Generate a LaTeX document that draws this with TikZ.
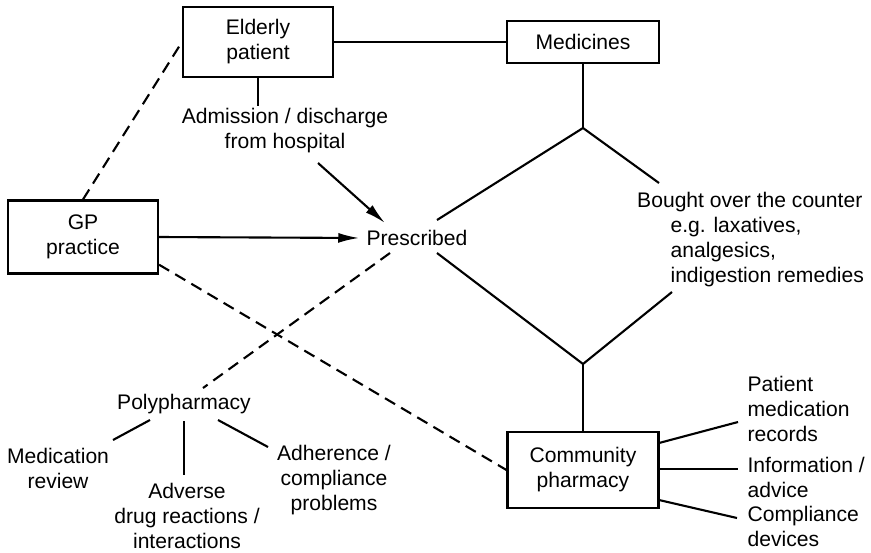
\documentclass[tikz,border=0pt]{standalone}
\usepackage{fontspec}
\setmainfont{Liberation Sans}
\usetikzlibrary{arrows.meta}
\begin{document}
\begin{tikzpicture}[x=0.03cm,y=-0.03cm,
  every node/.style={font=\fontsize{18}{21.3}\selectfont},
  box/.style={draw, line width=1.8pt, inner sep=0pt, align=center},
  lbl/.style={inner sep=2pt, align=center},
  link/.style={line width=1.8pt},
  dashlink/.style={line width=1.8pt, dash pattern=on 10pt off 6pt},
  arrowlink/.style={line width=1.8pt, -{Latex[length=18pt,width=8.5pt]}}]
\useasboundingbox (0,0) rectangle (871,552);

% boxes
\node[box, minimum width=4.5cm, minimum height=2.1cm] (elderly) at (258,42) {Elderly\\patient};
\node[box, minimum width=4.56cm, minimum height=1.26cm] (medicines) at (583,42) {Medicines};
\node[box, minimum width=4.5cm, minimum height=2.19cm] (gp) at (83,237) {GP\\practice};
\node[box, minimum width=4.53cm, minimum height=2.28cm] (community) at (583,470) {Community\\pharmacy};

% labels
\node[lbl] (admission) at (285,131) {Admission / discharge\\from hospital};
\node[lbl] (prescribed) at (417,238) {Prescribed};
\node[inner sep=0pt, align=left, anchor=north west] (otc) at (637,192)
  {Bought over the counter\\\hspace*{1cm}e.g. laxatives,\\\hspace*{1cm}analgesics,\\\hspace*{1cm}indigestion remedies};
\node[lbl] (poly) at (184,404) {Polypharmacy};
\node[lbl] (review) at (58,468) {Medication\\review};
\node[lbl] (adverse) at (187,516) {Adverse\\drug reactions /\\interactions};
\node[lbl] (adherence) at (334,480) {Adherence /\\compliance\\problems};
\node[lbl, align=left, anchor=west] (records) at (745,409) {Patient\\medication\\records};
\node[lbl, align=left, anchor=west] (advice) at (745,477) {Information /\\advice};
\node[lbl, align=left, anchor=west] (devices) at (745,526) {Compliance\\devices};

% branch points and connector ends
\coordinate (split) at (583,128);
\coordinate (join) at (583,364);
\coordinate (presUp) at (437,220);
\coordinate (presDown) at (437,253);
\coordinate (presDash) at (390,253);
\coordinate (otcUp) at (659,183);
\coordinate (otcDown) at (672,292);
\coordinate (admFrom) at (318,163);
\coordinate (admTo) at (385,223);
\coordinate (polyTop) at (203,388);
\coordinate (polyL) at (150,420);
\coordinate (polyM) at (184,421);
\coordinate (polyR) at (218,420);
\coordinate (reviewEnd) at (113,440);
\coordinate (adverseEnd) at (184,475);
\coordinate (adherenceEnd) at (268,447);
\coordinate (commA) at (659,443);
\coordinate (commB) at (659,469);
\coordinate (commC) at (659,500);
\coordinate (recordsEnd) at (738,422);
\coordinate (adviceEnd) at (738,469);
\coordinate (devicesEnd) at (737,518);

% solid links
\draw[link] (elderly.east) -- (medicines.west);
\draw[link] (elderly.south) -- (elderly.south |- admission.north);
\draw[link] (medicines.south) -- (split);
\draw[link] (presUp) -- (split) -- (otcUp);
\draw[link] (presDown) -- (join) -- (otcDown);
\draw[link] (join) -- (community.north);
\draw[link] (polyL) -- (reviewEnd);
\draw[link] (polyM) -- (adverseEnd);
\draw[link] (polyR) -- (adherenceEnd);
\draw[link] (commA) -- (recordsEnd);
\draw[link] (commB) -- (adviceEnd);
\draw[link] (commC) -- (devicesEnd);

% arrows
\draw[arrowlink] (admFrom) -- (admTo);
\draw[arrowlink, shorten >=4pt] (gp.east) -- (prescribed.west);

% dashed links
\draw[dashlink] (gp.north) -- (elderly.west);
\draw[dashlink] (gp.-20) -- (community.west);
\draw[dashlink] (presDash) -- (polyTop);
\end{tikzpicture}
\end{document}
